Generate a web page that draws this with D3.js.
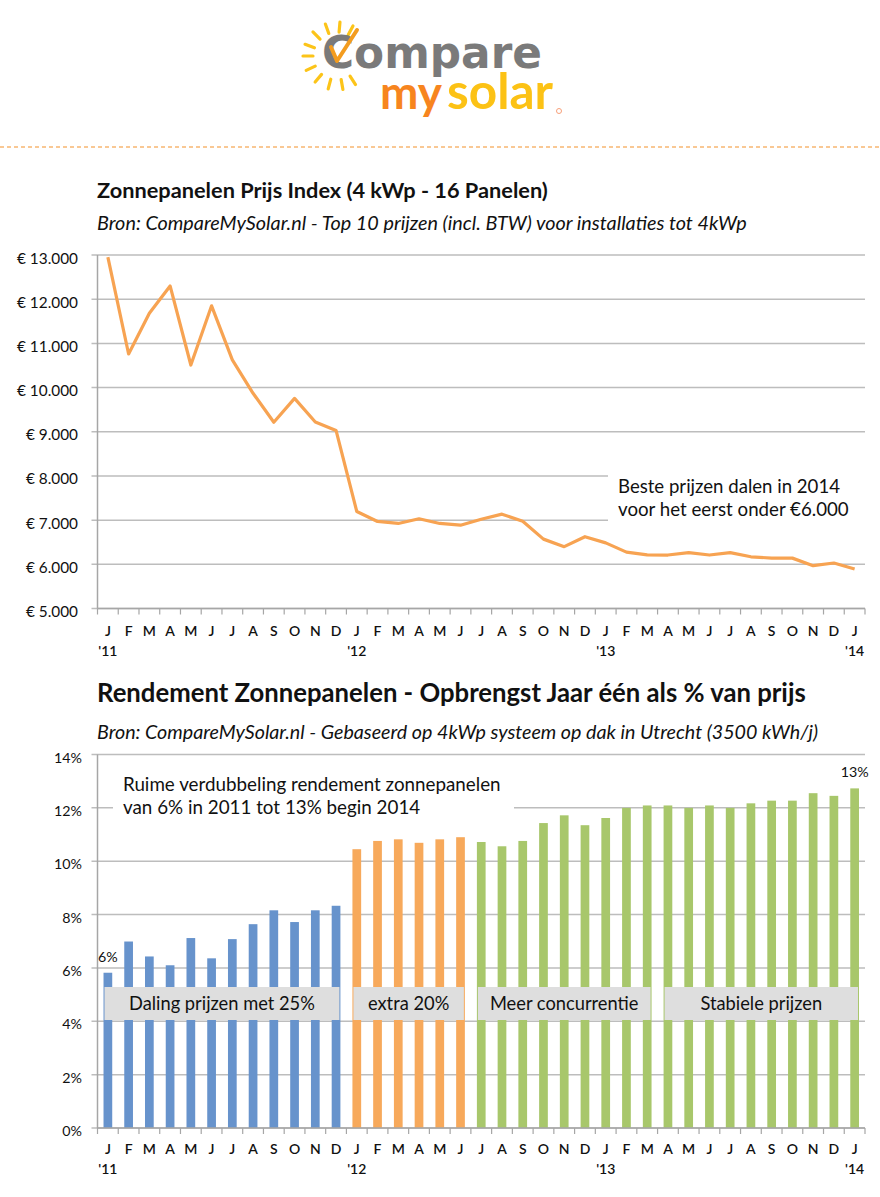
<!DOCTYPE html>
<html><head><meta charset="utf-8">
<script src="https://cdn.jsdelivr.net/npm/d3@7"></script>
<style>
html,body{margin:0;padding:0;background:#fff;}
svg{display:block;font-family:Lato,"Open Sans",sans-serif;}
</style></head>
<body>
<svg id="c" width="880" height="1197"></svg>
<script>
// ---------- DATA ----------
const months = ["J","F","M","A","M","J","J","A","S","O","N","D","J","F","M","A","M","J","J","A","S","O","N","D","J","F","M","A","M","J","J","A","S","O","N","D","J"];
const yearLabels = [{i:0,t:"'11"},{i:12,t:"'12"},{i:24,t:"'13"},{i:36,t:"'14"}];
const prices = [12950,10760,11680,12300,10510,11850,10625,9870,9215,9756,9220,9030,
                7195,6970,6925,7030,6925,6885,7020,7135,6975,6570,6400,6625,
                6485,6275,6215,6210,6265,6210,6265,6170,6140,6140,5970,6030,5895];
const priceTicks = [5000,6000,7000,8000,9000,10000,11000,12000,13000];
const rendement = [5.82,6.99,6.43,6.10,7.12,6.36,7.08,7.64,8.16,7.72,8.16,8.33,
                   10.45,10.76,10.82,10.69,10.82,10.90,10.72,10.56,10.76,11.43,11.72,11.35,
                   11.62,12.00,12.09,12.09,12.00,12.09,12.00,12.17,12.27,12.27,12.55,12.45,12.73];
const rendTicks = [0,2,4,6,8,10,12,14];
const phaseColors = ["#6793cc","#f7a95b","#a8c76b"];
const phaseOf = i => i < 12 ? 0 : (i < 18 ? 1 : 2);
const phaseBoxes = [{from:0,to:11,text:"Daling prijzen met 25%"},
                    {from:12,to:17,text:"extra 20%"},
                    {from:18,to:26,text:"Meer concurrentie"},
                    {from:27,to:36,text:"Stabiele prijzen"}];

const svg = d3.select("#c");
const nl = d3.formatLocale({decimal:",",thousands:".",grouping:[3],currency:["€ ",""]});
const fmtEuro = v => "€ " + nl.format(",")(v);

function fitSize(node, w){
  const fs = parseFloat(node.getAttribute("font-size"));
  const cw = node.getComputedTextLength();
  return cw > 0 ? fs*w/cw : fs;
}
function fit(sel, w){
  sel.each(function(){ this.setAttribute("font-size", fitSize(this, w).toFixed(2)); });
  return sel;
}

// ---------- LOGO ----------
const logo = svg.append("g");
const sun = {x:337, y:56};
const rayAngles = [-160,-135,-110,-85,-62,155,130,105,80,57,180];
logo.selectAll("line.ray").data(rayAngles).join("line").attr("class","ray")
  .attr("x1", a => sun.x + 24*Math.cos(a*Math.PI/180))
  .attr("y1", a => sun.y + 24*Math.sin(a*Math.PI/180))
  .attr("x2", a => sun.x + 34*Math.cos(a*Math.PI/180))
  .attr("y2", a => sun.y + 34*Math.sin(a*Math.PI/180))
  .attr("stroke","#fcc419").attr("stroke-width",3.2).attr("stroke-linecap","round");
fit(logo.append("text").attr("x",322).attr("y",68).attr("font-size",42).attr("font-weight",700)
  .attr("fill","#7a7a7a").style("font-family","'DejaVu Sans',sans-serif").text("Compare"), 220);
logo.append("path").attr("d","M331,47 L337,61 L357,30").attr("fill","none")
  .attr("stroke","#f39c1f").attr("stroke-width",4).attr("stroke-linecap","round").attr("stroke-linejoin","round");
fit(logo.append("text").attr("x",380).attr("y",109).attr("font-size",52).attr("font-weight",700)
  .attr("fill","#f7851e").text("my"), 62);
fit(logo.append("text").attr("x",447).attr("y",109).attr("font-size",52).attr("font-weight",700)
  .attr("fill","#fcc215").text("solar"), 106);
logo.append("circle").attr("cx",559).attr("cy",111).attr("r",2.5).attr("fill","none").attr("stroke","#f7a07a").attr("stroke-width",1);
svg.append("line").attr("x1",0).attr("x2",880).attr("y1",147).attr("y2",147)
  .attr("stroke","#f9c894").attr("stroke-width",2).attr("stroke-dasharray","4,3");

// ---------- shared helpers ----------
const L = 97.5, R = 865;
const xBand = d3.scaleBand().domain(d3.range(months.length)).range([L, R]).padding(0);

function xAxis(yAxis, monthY, yearY){
  const g = svg.append("g");
  const bounds = d3.range(months.length + 1).map(i => i < months.length ? xBand(i) : R);
  g.selectAll("line.tk").data(bounds).join("line").attr("class","tk")
    .attr("x1", d=>d).attr("x2", d=>d).attr("y1", yAxis).attr("y2", yAxis+6)
    .attr("stroke","#a6a6a6").attr("stroke-width",1.2);
  g.append("line").attr("x1",L).attr("x2",R).attr("y1",yAxis).attr("y2",yAxis)
    .attr("stroke","#a6a6a6").attr("stroke-width",1.5);
  g.selectAll("text.m").data(months).join("text").attr("class","m")
    .attr("x",(d,i)=>xBand(i)+xBand.bandwidth()/2).attr("y",monthY)
    .attr("text-anchor","middle").attr("font-size",14).attr("font-weight",600).attr("fill","#111").text(d=>d);
  g.selectAll("text.yr").data(yearLabels).join("text").attr("class","yr")
    .attr("x",d=>xBand(d.i)+xBand.bandwidth()/2).attr("y",yearY)
    .attr("text-anchor","middle").attr("font-size",14).attr("font-weight",600).attr("fill","#111").text(d=>d.t);
}

// ---------- CHART 1 ----------
fit(svg.append("text").attr("x",97).attr("y",198).attr("font-size",19.5).attr("font-weight",700)
  .attr("fill","#111").text("Zonnepanelen Prijs Index (4 kWp - 16 Panelen)"), 451);
fit(svg.append("text").attr("x",97).attr("y",230).attr("font-size",16.5).attr("font-style","italic")
  .attr("fill","#111").text("Bron: CompareMySolar.nl - Top 10 prijzen (incl. BTW) voor installaties tot 4kWp"), 650);

const y1 = d3.scaleLinear().domain([5000,13000]).range([608.5,255]);
const g1 = svg.append("g");
g1.selectAll("line.grid").data(priceTicks).join("line").attr("class","grid")
  .attr("x1",L-6).attr("x2",R).attr("y1",d=>y1(d)).attr("y2",d=>y1(d))
  .attr("stroke","#bdbdbd").attr("stroke-width",1.5);
const yl1 = g1.selectAll("text.yl").data(priceTicks).join("text").attr("class","yl")
  .attr("x",78).attr("y",d=>y1(d)+8.5).attr("text-anchor","end")
  .attr("font-size",15).attr("fill","#111").text(fmtEuro);
const fs1 = fitSize(yl1.filter(d=>d===13000).node(), 61);
yl1.attr("font-size", fs1);
g1.append("line").attr("x1",L).attr("x2",L).attr("y1",y1(13000)).attr("y2",y1(5000))
  .attr("stroke","#a6a6a6").attr("stroke-width",1.5);
g1.append("rect").attr("x",608).attr("y",468).attr("width",272).attr("height",60).attr("fill","#fff");
fit(g1.append("text").attr("x",618).attr("y",493).attr("font-size",17).attr("fill","#111").text("Beste prijzen dalen in 2014"), 222);
fit(g1.append("text").attr("x",618).attr("y",516).attr("font-size",17).attr("fill","#111").text("voor het eerst onder €6.000"), 231);
const line = d3.line().x((d,i)=>xBand(i)+xBand.bandwidth()/2).y(d=>y1(d));
g1.append("path").datum(prices).attr("d",line).attr("fill","none")
  .attr("stroke","#f7a352").attr("stroke-width",3.2).attr("stroke-linejoin","round");
xAxis(608.5, 636, 656);

// ---------- CHART 2 ----------
fit(svg.append("text").attr("x",97).attr("y",702).attr("font-size",19.5).attr("font-weight",700)
  .attr("fill","#111").text("Rendement Zonnepanelen - Opbrengst Jaar één als % van prijs"), 709);
fit(svg.append("text").attr("x",97).attr("y",739).attr("font-size",16.5).attr("font-style","italic")
  .attr("fill","#111").text("Bron: CompareMySolar.nl - Gebaseerd op 4kWp systeem op dak in Utrecht  (3500 kWh/j)"), 721);

const y2 = d3.scaleLinear().domain([0,14]).range([1128,754.5]);
const g2 = svg.append("g");
g2.selectAll("line.grid").data(rendTicks).join("line").attr("class","grid")
  .attr("x1",L-6).attr("x2",R).attr("y1",d=>y2(d)).attr("y2",d=>y2(d))
  .attr("stroke","#bdbdbd").attr("stroke-width",1.5);
const yl2 = g2.selectAll("text.yl").data(rendTicks).join("text").attr("class","yl")
  .attr("x",82).attr("y",d=>y2(d)+8).attr("text-anchor","end")
  .attr("font-size",15).attr("fill","#111").text(d=>d+"%");
const fs2 = fitSize(yl2.filter(d=>d===14).node(), 28);
yl2.attr("font-size", fs2);
g2.append("line").attr("x1",L).attr("x2",L).attr("y1",y2(14)).attr("y2",y2(0))
  .attr("stroke","#a6a6a6").attr("stroke-width",1.5);
g2.append("rect").attr("x",113).attr("y",764).attr("width",401).attr("height",64).attr("fill","#fff");
const a1 = g2.append("text").attr("x",123).attr("y",791).attr("font-size",17).attr("fill","#111").text("Ruime verdubbeling rendement zonnepanelen");
const fsA = fitSize(a1.node(), 378);
a1.attr("font-size", fsA);
g2.append("text").attr("x",123).attr("y",814).attr("font-size",fsA).attr("fill","#111").text("van 6% in 2011 tot 13% begin 2014");
const bw = xBand.bandwidth()*0.42;
g2.selectAll("rect.bar").data(rendement).join("rect").attr("class","bar")
  .attr("x",(d,i)=>xBand(i)+(xBand.bandwidth()-bw)/2).attr("width",bw)
  .attr("y",d=>y2(d)).attr("height",d=>y2(0)-y2(d))
  .attr("fill",(d,i)=>phaseColors[phaseOf(i)]);
g2.selectAll("rect.pb").data(phaseBoxes).join("rect").attr("class","pb")
  .attr("x",d=>xBand(d.from)+7).attr("width",d=>xBand(d.to)+xBand.bandwidth()-7-(xBand(d.from)+7))
  .attr("y",987).attr("height",33).attr("fill","#dedede");
const pbt = g2.selectAll("text.pb").data(phaseBoxes).join("text").attr("class","pb")
  .attr("x",d=>(xBand(d.from)+xBand(d.to)+xBand.bandwidth())/2).attr("y",1010)
  .attr("text-anchor","middle").attr("font-size",17).attr("fill","#111").text(d=>d.text);
const fsP = fitSize(pbt.filter(d=>d.from===0).node(), 186);
pbt.attr("font-size", fsP);
g2.append("text").attr("x",xBand(0)+xBand.bandwidth()/2).attr("y",962).attr("text-anchor","middle")
  .attr("font-size",fs2).attr("fill","#111").text("6%");
g2.append("text").attr("x",xBand(36)+xBand.bandwidth()/2).attr("y",777).attr("text-anchor","middle")
  .attr("font-size",fs2).attr("fill","#111").text("13%");
xAxis(1128, 1154, 1174);
</script>
</body></html>
